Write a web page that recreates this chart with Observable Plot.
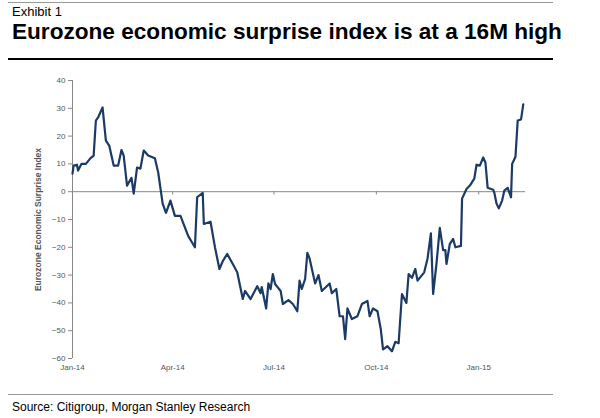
<!DOCTYPE html>
<html><head><meta charset="utf-8">
<script src="https://cdn.jsdelivr.net/npm/d3@7"></script>
<script src="https://cdn.jsdelivr.net/npm/@observablehq/plot@0.6"></script>
<style>
body{margin:0;background:#fff;font-family:Arial,"Liberation Sans",sans-serif;}
#wrap{position:relative;width:600px;height:418px;}
#ex{position:absolute;left:12px;top:4px;font-size:13px;color:#000;}
#title{position:absolute;left:12px;top:19px;font-size:22.6px;font-weight:bold;color:#000;}
#r1{position:absolute;left:8px;top:2px;width:545px;border-top:1px solid #999;}
#r2{position:absolute;left:8px;top:58px;width:545px;border-top:2px solid #000;}
#r3{position:absolute;left:8px;top:394px;width:545px;border-top:1px solid #999;}
#src{position:absolute;left:12px;top:400px;font-size:12px;color:#000;}
#chart{position:absolute;left:0;top:62px;}
</style></head><body>
<div id="wrap">
<div id="r1"></div><div id="ex">Exhibit 1</div>
<div id="title">Eurozone economic surprise index is at a 16M high</div>
<div id="r2"></div>
<div id="chart"></div>
<div id="r3"></div>
<div id="src">Source: Citigroup, Morgan Stanley Research</div>
</div>
<script>
const dates = ["2014-01-01","2014-01-02","2014-01-05","2014-01-06","2014-01-09","2014-01-13","2014-01-17","2014-01-20","2014-01-22","2014-01-24","2014-01-28","2014-01-31","2014-02-03","2014-02-07","2014-02-11","2014-02-14","2014-02-16","2014-02-19","2014-02-23","2014-02-25","2014-02-28","2014-03-03","2014-03-06","2014-03-10","2014-03-16","2014-03-19","2014-03-23","2014-03-26","2014-03-30","2014-04-03","2014-04-08","2014-04-15","2014-04-21","2014-04-23","2014-04-28","2014-04-29","2014-05-05","2014-05-09","2014-05-13","2014-05-16","2014-05-20","2014-05-25","2014-05-29","2014-06-03","2014-06-05","2014-06-10","2014-06-16","2014-06-19","2014-06-20","2014-06-24","2014-06-26","2014-06-28","2014-06-30","2014-07-02","2014-07-07","2014-07-09","2014-07-14","2014-07-18","2014-07-22","2014-07-24","2014-07-26","2014-07-29","2014-07-31","2014-08-02","2014-08-07","2014-08-10","2014-08-13","2014-08-20","2014-08-22","2014-08-26","2014-08-29","2014-09-01","2014-09-03","2014-09-05","2014-09-09","2014-09-14","2014-09-18","2014-09-23","2014-09-25","2014-09-28","2014-10-02","2014-10-05","2014-10-07","2014-10-11","2014-10-15","2014-10-18","2014-10-21","2014-10-24","2014-10-28","2014-10-30","2014-11-02","2014-11-05","2014-11-07","2014-11-13","2014-11-16","2014-11-19","2014-11-21","2014-11-24","2014-11-27","2014-11-30","2014-12-02","2014-12-03","2014-12-06","2014-12-09","2014-12-11","2014-12-16","2014-12-17","2014-12-21","2014-12-24","2014-12-28","2014-12-30","2015-01-02","2015-01-05","2015-01-07","2015-01-09","2015-01-14","2015-01-15","2015-01-17","2015-01-19","2015-01-22","2015-01-24","2015-01-27","2015-01-30","2015-01-31","2015-02-03","2015-02-05","2015-02-08","2015-02-10"];
const values = [6.5,9.4,9.7,7.6,10,10,12,13,25.6,26.7,30.3,18.4,16.6,9.4,9.4,15,13,2.2,5,-0.7,8.7,8.3,14.8,13,12,6.9,-4.3,-7.6,-3.2,-8.7,-8.7,-16,-20,-2,-0.4,-11.6,-10.8,-20,-27.8,-25,-22.4,-26,-29,-38.6,-35.7,-38.6,-34,-36.5,-34.3,-42,-33,-35,-29.6,-33.2,-35.7,-40.4,-39,-40.4,-43,-32,-35,-31.4,-22,-24,-33,-30,-35.7,-33,-36.5,-35,-44.8,-44.8,-53,-42,-45.8,-44.8,-40.4,-39.3,-44.8,-42,-43,-49.5,-56.7,-55.6,-57.4,-54,-54.5,-36.8,-40,-29.6,-31,-27.8,-32,-29,-24,-15,-36.8,-26,-13,-21,-21,-26,-18.8,-17,-20,-19.5,-2.5,1,2.2,4.7,9.7,9.4,12.3,10.5,1.4,0.7,-0.4,-4.3,-6,-3.2,0.4,1.4,-2,10,12.6,25.6,26,31.4];
const xTicks = ["2014-01-01","2014-04-01","2014-07-01","2014-10-01","2015-01-01"];
const xTickLabels = ["Jan-14","Apr-14","Jul-14","Oct-14","Jan-15"];
const yTicks = [-60,-50,-40,-30,-20,-10,0,10,20,30,40];

const parse = d3.utcParse("%Y-%m-%d");
const data = dates.map((d,i)=>({date:parse(d), value:values[i]}));
const xt = xTicks.map(parse);
const x0 = parse("2014-01-01"), x1 = parse("2015-02-12");
const grey = "#888";
const plot = Plot.plot({
  width:560, height:318, marginLeft:72, marginRight:35, marginTop:18, marginBottom:22,
  style:{fontFamily:"Arial, 'Liberation Sans', sans-serif", fontSize:"8px", color:"#555"},
  x:{type:"utc", domain:[x0,x1]},
  y:{domain:[-60,40]},
  marks:[
    Plot.ruleY([0],{stroke:grey, strokeWidth:1}),
    Plot.ruleX(xt.slice(1),{y1:0, y2:-1.2, stroke:grey}),
    Plot.ruleX([x0],{y1:-60,y2:40,stroke:grey}),
    Plot.axisY({ticks:yTicks, tickSize:4, tickPadding:3, stroke:grey, fill:"#555", label:null}),
    Plot.axisX({ticks:xt, tickSize:0, tickPadding:6, tickFormat:(d,i)=>xTickLabels[i], fill:"#555", label:null}),
    Plot.text(["Eurozone Economic Surprise Index"],{frameAnchor:"left", textAnchor:"middle", dx:-34, rotate:-90, fontSize:8.5, fill:"#555", fontWeight:"bold"}),
    Plot.line(data,{x:"date", y:"value", stroke:"#1b3a66", strokeWidth:2.2, curve:"linear"})
  ]
});
document.getElementById("chart").appendChild(plot);
</script>
</body></html>
